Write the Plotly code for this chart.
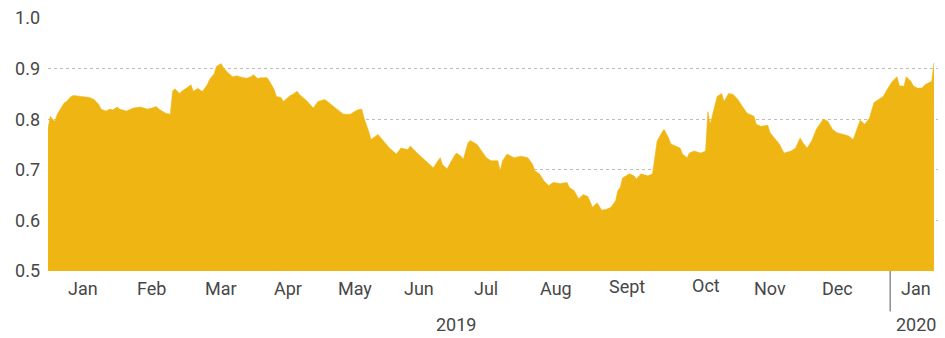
import plotly.graph_objects as go

# Daily index level, Jan 2019 - Jan 2020
dates = [
    "2019-01-01", "2019-01-02", "2019-01-03", "2019-01-04", "2019-01-05", "2019-01-07",
    "2019-01-08", "2019-01-09", "2019-01-11", "2019-01-12", "2019-01-15", "2019-01-19",
    "2019-01-21", "2019-01-23", "2019-01-24", "2019-01-26", "2019-01-28", "2019-01-29",
    "2019-01-31", "2019-02-01", "2019-02-04", "2019-02-07", "2019-02-10", "2019-02-13",
    "2019-02-15", "2019-02-17", "2019-02-18", "2019-02-21", "2019-02-23", "2019-02-24",
    "2019-02-25", "2019-02-27", "2019-02-28", "2019-03-02", "2019-03-04", "2019-03-05",
    "2019-03-07", "2019-03-08", "2019-03-09", "2019-03-11", "2019-03-12", "2019-03-14",
    "2019-03-15", "2019-03-17", "2019-03-18", "2019-03-20", "2019-03-21", "2019-03-22",
    "2019-03-24", "2019-03-25", "2019-03-28", "2019-03-30", "2019-03-31", "2019-04-02",
    "2019-04-03", "2019-04-06", "2019-04-07", "2019-04-09", "2019-04-10", "2019-04-12",
    "2019-04-13", "2019-04-15", "2019-04-16", "2019-04-17", "2019-04-19", "2019-04-20",
    "2019-04-23", "2019-04-26", "2019-04-28", "2019-05-01", "2019-05-03", "2019-05-06",
    "2019-05-09", "2019-05-12", "2019-05-15", "2019-05-17", "2019-05-18", "2019-05-20",
    "2019-05-21", "2019-05-24", "2019-05-26", "2019-05-29", "2019-06-01", "2019-06-03",
    "2019-06-06", "2019-06-07", "2019-06-10", "2019-06-13", "2019-06-16", "2019-06-17",
    "2019-06-19", "2019-06-20", "2019-06-21", "2019-06-23", "2019-06-26", "2019-06-27",
    "2019-06-29", "2019-06-30", "2019-07-02", "2019-07-03", "2019-07-06", "2019-07-08",
    "2019-07-10", "2019-07-12", "2019-07-15", "2019-07-16", "2019-07-17", "2019-07-19",
    "2019-07-22", "2019-07-25", "2019-07-28", "2019-07-30", "2019-07-31", "2019-08-02",
    "2019-08-04", "2019-08-06", "2019-08-08", "2019-08-11", "2019-08-14", "2019-08-15",
    "2019-08-17", "2019-08-19", "2019-08-21", "2019-08-23", "2019-08-25", "2019-08-27",
    "2019-08-29", "2019-08-31", "2019-09-02", "2019-09-04", "2019-09-05", "2019-09-06",
    "2019-09-07", "2019-09-10", "2019-09-12", "2019-09-13", "2019-09-15", "2019-09-18",
    "2019-09-20", "2019-09-21", "2019-09-22", "2019-09-24", "2019-09-25", "2019-09-27",
    "2019-09-28", "2019-09-30", "2019-10-02", "2019-10-03", "2019-10-05", "2019-10-06",
    "2019-10-08", "2019-10-11", "2019-10-13", "2019-10-14", "2019-10-15", "2019-10-18",
    "2019-10-20", "2019-10-21", "2019-10-23", "2019-10-25", "2019-10-27", "2019-10-29",
    "2019-10-31", "2019-11-03", "2019-11-04", "2019-11-06", "2019-11-09", "2019-11-10",
    "2019-11-12", "2019-11-14", "2019-11-16", "2019-11-19", "2019-11-21", "2019-11-23",
    "2019-11-24", "2019-11-26", "2019-11-28", "2019-11-30", "2019-12-03", "2019-12-05",
    "2019-12-07", "2019-12-09", "2019-12-12", "2019-12-14", "2019-12-16", "2019-12-18",
    "2019-12-19", "2019-12-21", "2019-12-23", "2019-12-25", "2019-12-27", "2019-12-29",
    "2019-12-31", "2020-01-02", "2020-01-04", "2020-01-05", "2020-01-07", "2020-01-08",
    "2020-01-10", "2020-01-11", "2020-01-13", "2020-01-15", "2020-01-16", "2020-01-18",
    "2020-01-19", "2020-01-20",
]

values = [
    0.782, 0.806, 0.800, 0.796, 0.810, 0.824,
    0.832, 0.835, 0.845, 0.847, 0.845, 0.843,
    0.839, 0.829, 0.820, 0.816, 0.820, 0.818,
    0.824, 0.820, 0.816, 0.822, 0.824, 0.820,
    0.822, 0.825, 0.820, 0.812, 0.810, 0.855,
    0.860, 0.851, 0.855, 0.861, 0.868, 0.855,
    0.861, 0.857, 0.855, 0.868, 0.878, 0.890,
    0.904, 0.910, 0.902, 0.892, 0.888, 0.884,
    0.886, 0.884, 0.881, 0.884, 0.888, 0.880,
    0.882, 0.882, 0.875, 0.859, 0.845, 0.843,
    0.835, 0.843, 0.847, 0.849, 0.855, 0.849,
    0.837, 0.822, 0.835, 0.839, 0.832, 0.820,
    0.810, 0.810, 0.818, 0.820, 0.802, 0.776,
    0.760, 0.770, 0.760, 0.743, 0.731, 0.743,
    0.740, 0.747, 0.733, 0.721, 0.708, 0.704,
    0.718, 0.724, 0.710, 0.702, 0.727, 0.733,
    0.727, 0.721, 0.753, 0.758, 0.750, 0.737,
    0.724, 0.718, 0.718, 0.698, 0.718, 0.731,
    0.724, 0.727, 0.724, 0.711, 0.698, 0.692,
    0.678, 0.669, 0.675, 0.673, 0.675, 0.665,
    0.659, 0.643, 0.651, 0.647, 0.626, 0.635,
    0.620, 0.622, 0.626, 0.639, 0.659, 0.665,
    0.684, 0.692, 0.688, 0.682, 0.692, 0.688,
    0.692, 0.724, 0.757, 0.773, 0.780, 0.763,
    0.751, 0.747, 0.743, 0.731, 0.724, 0.733,
    0.737, 0.733, 0.737, 0.815, 0.790, 0.845,
    0.851, 0.835, 0.851, 0.849, 0.839, 0.825,
    0.812, 0.806, 0.790, 0.786, 0.788, 0.773,
    0.763, 0.751, 0.733, 0.737, 0.743, 0.763,
    0.755, 0.743, 0.757, 0.780, 0.800, 0.796,
    0.780, 0.773, 0.770, 0.767, 0.760, 0.786,
    0.798, 0.790, 0.802, 0.833, 0.839, 0.845,
    0.861, 0.875, 0.884, 0.866, 0.865, 0.884,
    0.875, 0.866, 0.861, 0.862, 0.868, 0.872,
    0.875, 0.912,
]

# Month labels, placed near the middle of each month
month_labels = ["Jan", "Feb", "Mar", "Apr", "May", "Jun", "Jul", "Aug",
                "Sept", "Oct", "Nov", "Dec", "Jan"]
month_dates = ["2019-01-16", "2019-02-15", "2019-03-17", "2019-04-15", "2019-05-14",
               "2019-06-11", "2019-07-10", "2019-08-09", "2019-09-09", "2019-10-13",
               "2019-11-10", "2019-12-09", "2020-01-12"]
month_rows = [-0.07, -0.07, -0.07, -0.07, -0.07, -0.07, -0.07, -0.07,
              -0.062, -0.058, -0.07, -0.07, -0.07]

year_labels = ["2019", "2020"]
year_dates = ["2019-06-27", "2020-01-12"]

y_ticks = [0.5, 0.6, 0.7, 0.8, 0.9, 1.0]

FILL = "#EFB512"
TEXT = "#474747"
FONT = "Roboto"
FSIZE = 18

fig = go.Figure()
fig.add_trace(go.Scatter(
    x=dates, y=values,
    mode="lines",
    fill="tozeroy",
    fillcolor=FILL,
    line=dict(color=FILL, width=0.5),
    hoverinfo="x+y",
    showlegend=False,
))

annotations = []
for lab, d, r in zip(month_labels, month_dates, month_rows):
    annotations.append(dict(
        x=d, y=r, xref="x", yref="paper", text=lab, showarrow=False,
        xanchor="center", yanchor="middle",
        font=dict(family=FONT, size=FSIZE, color=TEXT),
    ))
for lab, d in zip(year_labels, year_dates):
    annotations.append(dict(
        x=d, y=-0.212, xref="x", yref="paper", text=lab, showarrow=False,
        xanchor="center", yanchor="middle",
        font=dict(family=FONT, size=FSIZE, color=TEXT),
    ))

fig.update_layout(
    width=945, height=338,
    margin=dict(l=48, r=7, t=16, b=67),
    paper_bgcolor="white",
    plot_bgcolor="white",
    annotations=annotations,
    shapes=[dict(
        type="line", xref="x", yref="paper",
        x0="2020-01-01", x1="2020-01-01", y0=0, y1=-0.16,
        line=dict(color="#555555", width=1),
    )],
    xaxis=dict(
        range=["2019-01-01", "2020-01-21T18:00"],
        showticklabels=False, showgrid=False, zeroline=False,
        showline=False, ticks="",
    ),
    yaxis=dict(
        range=[0.5, 1.0],
        tickvals=y_ticks,
        ticktext=[f"{v:.1f}" for v in y_ticks],
        tickfont=dict(family=FONT, size=FSIZE, color=TEXT),
        showgrid=True, gridcolor="#bdbdbd", griddash="dot", gridwidth=1,
        zeroline=False, showline=False, ticks="",
        ticklabelstandoff=7,
    ),
)

fig.write_html("out.html")
